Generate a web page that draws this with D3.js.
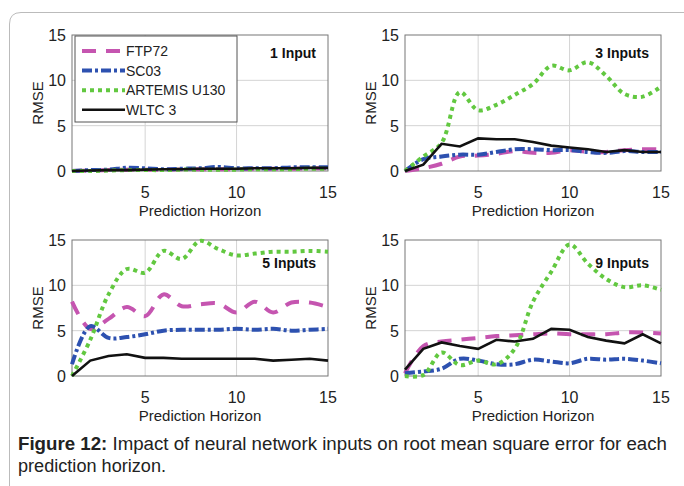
<!DOCTYPE html>
<html>
<head>
<meta charset="utf-8">
<script src="https://cdn.jsdelivr.net/npm/d3@7"></script>
<style>
body { margin: 0; background: #fff; }
text { font-family: "Liberation Sans", Arial, sans-serif; }
</style>
</head>
<body>
<script>
// data
var horizon = [1,2,3,4,5,6,7,8,9,10,11,12,13,14,15];
var seriesNames = ['FTP72', 'SC03', 'ARTEMIS U130', 'WLTC 3'];
var panelTitles = ['1 Input', '3 Inputs', '5 Inputs', '9 Inputs'];
var xTicks = [5, 10, 15];
var yTicks = [0, 5, 10, 15];

var in1_ftp72   = [0,0.05,0.1,0.15,0.15,0.15,0.2,0.2,0.2,0.2,0.25,0.25,0.25,0.3,0.3];
var in1_sc03    = [0,0.1,0.15,0.35,0.3,0.2,0.25,0.3,0.45,0.3,0.3,0.3,0.4,0.4,0.4];
var in1_artemis = [0,0,0.05,0.1,0.1,0.1,0.15,0.15,0.15,0.15,0.2,0.2,0.2,0.25,0.25];
var in1_wltc    = [0,0.05,0.1,0.1,0.15,0.2,0.2,0.25,0.25,0.25,0.3,0.3,0.3,0.35,0.35];

var in3_ftp72   = [0,0.3,0.8,1.6,1.7,1.9,2.2,2.0,2.0,2.3,2.1,2.1,2.3,2.4,2.4];
var in3_sc03    = [0,1.3,1.6,1.8,1.8,2.1,2.4,2.4,2.3,2.3,2.1,2.0,2.2,2.1,2.1];
var in3_artemis = [0,1.6,3.1,8.7,6.7,7.3,8.4,9.6,11.6,11.1,12.0,10.5,8.5,8.2,9.3];
var in3_wltc    = [0,0.7,3.0,2.7,3.6,3.5,3.5,3.2,2.8,2.6,2.4,2.1,2.3,2.1,2.1];

var in5_ftp72   = [8.2,5.2,6.3,7.6,6.6,9.0,7.7,7.9,8.0,7.0,8.2,7.0,8.1,8.1,7.6];
var in5_sc03    = [1.3,5.5,4.2,4.3,4.6,5.0,5.1,5.1,5.1,5.2,5.1,5.2,5.0,5.1,5.2];
var in5_artemis = [0,4.0,9.0,11.8,11.4,13.8,12.9,14.9,14.0,13.3,13.5,13.7,13.7,13.8,13.7];
var in5_wltc    = [0,1.7,2.2,2.4,2.0,2.0,1.9,1.9,1.9,1.9,1.9,1.7,1.8,1.9,1.7];

var in9_ftp72   = [0.3,3.3,3.8,4.0,4.2,4.4,4.5,4.6,4.7,4.6,4.6,4.6,4.8,4.8,4.7];
var in9_sc03    = [0.3,0.5,0.8,1.9,1.7,1.3,1.3,1.8,1.6,1.4,1.9,1.8,1.9,1.7,1.4];
var in9_artemis = [0,0.1,2.6,1.2,1.7,1.3,3.0,8.2,11.5,14.5,12.4,10.7,9.8,10.0,9.5];
var in9_wltc    = [0.7,3.0,3.7,3.3,3.0,4.0,3.8,4.1,5.2,5.1,4.3,3.9,3.6,4.6,3.6];

var panelData = [
	[in1_ftp72, in1_sc03, in1_artemis, in1_wltc],
	[in3_ftp72, in3_sc03, in3_artemis, in3_wltc],
	[in5_ftp72, in5_sc03, in5_artemis, in5_wltc],
	[in9_ftp72, in9_sc03, in9_artemis, in9_wltc]
];

var styles = [
	{color: '#c555b0', width: 4, dash: '14,10', smooth: true},
	{color: '#2d51b0', width: 4, dash: '10,3,3,3', smooth: true},
	{color: '#62c840', width: 4, dash: '4,4', smooth: true},
	{color: '#111111', width: 2.6, dash: null, smooth: false}
];

var width = 684, height = 486;
var svg = d3.select('body').append('svg')
	.attr('width', width)
	.attr('height', height);

// figure frame
svg.append('path')
	.attr('d', 'M9.5,' + (height + 2) + ' L9.5,24 Q9.5,12.5 21,12.5 L' + (width + 2) + ',12.5')
	.style('fill', 'none')
	.style('stroke', '#bbb')
	.style('stroke-width', 1);

var pw = 256, ph = 136;
var origins = [[72, 35], [405, 35], [72, 240], [405, 240]];

var x = d3.scaleLinear().domain([1, 15]).range([0, pw]);
var y = d3.scaleLinear().domain([0, 15]).range([ph, 0]);

var line = d3.line()
	.x(function(d, i) { return x(horizon[i]); })
	.y(function(d) { return y(d); });
var smoothLine = d3.line()
	.curve(d3.curveCatmullRom.alpha(0.5))
	.x(function(d, i) { return x(horizon[i]); })
	.y(function(d) { return y(d); });

panelData.forEach(function(series, p) {
	var g = svg.append('g')
		.attr('transform', 'translate(' + origins[p][0] + ',' + origins[p][1] + ')');

	// grid
	g.selectAll('.gx').data([5, 10]).enter().append('line')
		.attr('x1', function(d) { return x(d); })
		.attr('x2', function(d) { return x(d); })
		.attr('y1', 0).attr('y2', ph)
		.style('stroke', '#d4d4d4').style('stroke-width', 1);
	g.selectAll('.gy').data([5, 10]).enter().append('line')
		.attr('y1', function(d) { return y(d); })
		.attr('y2', function(d) { return y(d); })
		.attr('x1', 0).attr('x2', pw)
		.style('stroke', '#d4d4d4').style('stroke-width', 1);

	g.append('rect')
		.attr('width', pw).attr('height', ph)
		.style('fill', 'none')
		.style('stroke', '#777')
		.style('stroke-width', 1);

	// ticks labels
	g.selectAll('.xt').data(xTicks).enter().append('text')
		.attr('x', function(d) { return x(d); })
		.attr('y', ph + 27)
		.attr('text-anchor', 'middle')
		.style('font-size', '16px')
		.style('fill', '#222')
		.text(function(d) { return d; });
	g.selectAll('.yt').data(yTicks).enter().append('text')
		.attr('x', -6)
		.attr('y', function(d) { return y(d) + 6; })
		.attr('text-anchor', 'end')
		.style('font-size', '16px')
		.style('fill', '#222')
		.text(function(d) { return d; });

	g.append('text')
		.attr('x', pw / 2)
		.attr('y', ph + 45)
		.attr('text-anchor', 'middle')
		.style('font-size', '15px')
		.style('fill', '#222')
		.text('Prediction Horizon');
	g.append('text')
		.attr('transform', 'translate(-29,' + (ph / 2) + ') rotate(-90)')
		.attr('text-anchor', 'middle')
		.style('font-size', '15px')
		.style('fill', '#222')
		.text('RMSE');

	series.forEach(function(values, s) {
		g.append('path')
			.attr('d', styles[s].smooth ? smoothLine(values) : line(values))
			.style('fill', 'none')
			.style('stroke', styles[s].color)
			.style('stroke-width', styles[s].width)
			.style('stroke-dasharray', styles[s].dash);
	});

	g.append('text')
		.attr('x', pw - 12)
		.attr('y', p < 2 ? 23 : 28)
		.attr('text-anchor', 'end')
		.style('font-size', '14px')
		.style('font-weight', 'bold')
		.style('fill', '#111')
		.text(panelTitles[p]);

	if (p === 0) {
		var lg = g.append('g').attr('transform', 'translate(3,1)');
		lg.append('rect')
			.attr('width', 162).attr('height', 86)
			.style('fill', '#fff')
			.style('stroke', '#555')
			.style('stroke-width', 1);
		seriesNames.forEach(function(name, s) {
			var ly = 15 + s * 19.6;
			lg.append('line')
				.attr('x1', 7).attr('x2', 50)
				.attr('y1', ly).attr('y2', ly)
				.style('stroke', styles[s].color)
				.style('stroke-width', styles[s].width)
				.style('stroke-dasharray', styles[s].dash);
			lg.append('text')
				.attr('x', 51)
				.attr('y', ly + 5)
				.style('font-size', '14px')
				.style('fill', '#222')
				.text(name);
		});
	}
});

// caption
var cap = svg.append('text')
	.attr('x', 18)
	.attr('y', 450)
	.attr('textLength', 649)
	.attr('lengthAdjust', 'spacingAndGlyphs')
	.style('font-size', '18px')
	.style('fill', '#222');
cap.append('tspan').style('font-weight', 'bold').text('Figure 12:');
cap.append('tspan').text(' Impact of neural network inputs on root mean square error for each');
svg.append('text')
	.attr('x', 18)
	.attr('y', 472)
	.attr('textLength', 148)
	.attr('lengthAdjust', 'spacingAndGlyphs')
	.style('font-size', '18px')
	.style('fill', '#222')
	.text('prediction horizon.');
</script>
</body>
</html>
